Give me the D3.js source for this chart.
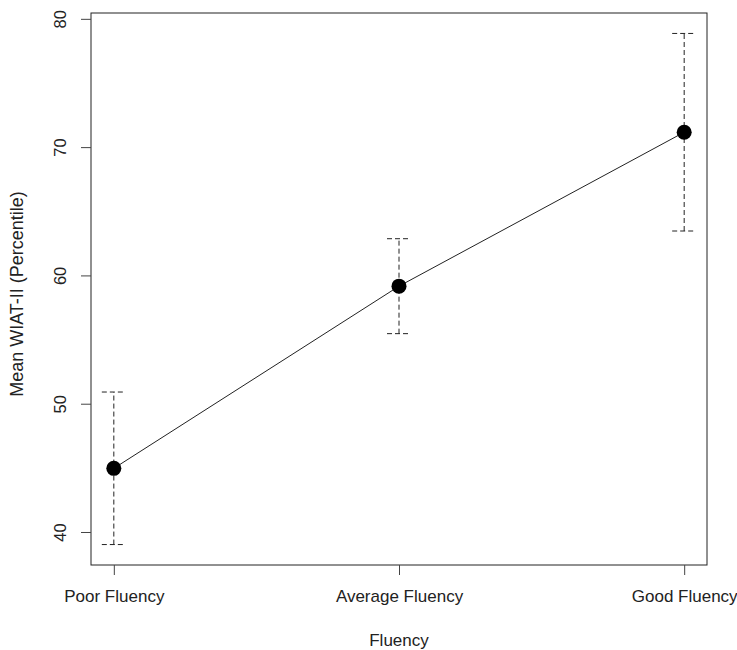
<!DOCTYPE html>
<html>
<head>
<meta charset="utf-8">
<script src="https://cdn.jsdelivr.net/npm/d3@7"></script>
<style>
  body { margin: 0; background: #fff; }
  text { font-family: "Liberation Sans", Arial, sans-serif; fill: #222; }
</style>
</head>
<body>
<script>
// fluency groups and mean WIAT-II percentile with error bar limits
const groups = ['Poor Fluency', 'Average Fluency', 'Good Fluency']
const means = [45.0, 59.2, 71.2]
const lower = [39.06, 55.5, 63.5]
const upper = [50.95, 62.9, 78.9]
const yTicks = [40, 50, 60, 70, 80]

const width = 737
const height = 650
const box = { left: 91, right: 707, top: 13, bottom: 565 }

const svg = d3.select('body').append('svg')
  .attr('width', width)
  .attr('height', height)

// R style 4% padding around the data range
const xDom = [0.92, 3.08]
const yMin = d3.min(lower)
const yMax = d3.max(upper)
const pad = (yMax - yMin) * 0.04

const x = d3.scaleLinear().domain(xDom).range([box.left, box.right])
const y = d3.scaleLinear().domain([yMin - pad, yMax + pad]).range([box.bottom, box.top])

svg.append('rect')
  .attr('x', box.left).attr('y', box.top)
  .attr('width', box.right - box.left).attr('height', box.bottom - box.top)
  .attr('fill', 'none').attr('stroke', '#222').attr('stroke-width', 1)

// y axis
const yAxis = svg.append('g')
  .attr('transform', `translate(${box.left},0)`)
  .call(d3.axisLeft(y).tickValues(yTicks).tickSize(10).tickPadding(0))
yAxis.select('.domain').remove()
yAxis.selectAll('line').attr('stroke', '#444')
yAxis.selectAll('text')
  .attr('x', -31).attr('dy', 0)
  .attr('transform', d => `rotate(-90,-31,${y(d)})`)
  .attr('y', d => y(d) + 6)
  .attr('text-anchor', 'middle')
  .style('font-size', '16.5px')
  .style('font-family', '"Liberation Sans", Arial, sans-serif')
yAxis.selectAll('.tick').attr('transform', null)
yAxis.selectAll('.tick line').attr('y1', d => y(d)).attr('y2', d => y(d))

// x axis
const xAxis = svg.append('g')
  .attr('transform', `translate(0,${box.bottom})`)
  .call(d3.axisBottom(x).tickValues([1, 2, 3]).tickFormat((d, i) => groups[i]).tickSize(10).tickPadding(15))
xAxis.select('.domain').remove()
xAxis.selectAll('line').attr('stroke', '#444')
xAxis.selectAll('text')
  .style('font-size', '17px')
  .style('font-family', '"Liberation Sans", Arial, sans-serif')

// axis titles
svg.append('text')
  .attr('x', (box.left + box.right) / 2 + 0)
  .attr('y', 646)
  .attr('text-anchor', 'middle')
  .style('font-size', '17px')
  .text('Fluency')

svg.append('text')
  .attr('transform', `translate(23,${(box.top + box.bottom) / 2 + 5}) rotate(-90)`)
  .attr('text-anchor', 'middle')
  .style('font-size', '18px')
  .text('Mean WIAT-II (Percentile)')

const data = groups.map((g, i) => ({ g, i: i + 1, m: means[i], lo: lower[i], hi: upper[i] }))

// error bars
const bars = svg.append('g').attr('stroke', '#222').attr('stroke-width', 1).attr('stroke-dasharray', '5,3')
bars.selectAll('.stem').data(data).enter().append('line')
  .attr('x1', d => x(d.i)).attr('x2', d => x(d.i))
  .attr('y1', d => y(d.lo)).attr('y2', d => y(d.hi))
bars.selectAll('.capHi').data(data).enter().append('line')
  .attr('x1', d => x(d.i) - 12).attr('x2', d => x(d.i) + 12)
  .attr('y1', d => y(d.hi)).attr('y2', d => y(d.hi))
bars.selectAll('.capLo').data(data).enter().append('line')
  .attr('x1', d => x(d.i) - 12).attr('x2', d => x(d.i) + 12)
  .attr('y1', d => y(d.lo)).attr('y2', d => y(d.lo))

// mean line and points
svg.append('path')
  .datum(data)
  .attr('fill', 'none')
  .attr('stroke', '#222')
  .attr('stroke-width', 1)
  .attr('d', d3.line().x(d => x(d.i)).y(d => y(d.m)))

svg.selectAll('.pt').data(data).enter().append('circle')
  .attr('cx', d => x(d.i)).attr('cy', d => y(d.m))
  .attr('r', 7.5)
  .attr('fill', '#000')
</script>
</body>
</html>
